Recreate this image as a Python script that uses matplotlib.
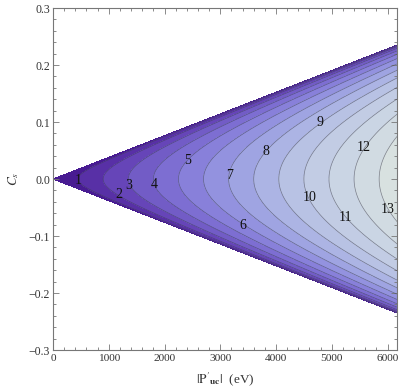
import matplotlib
matplotlib.use('Agg')
import matplotlib.pyplot as plt
import numpy as np
from matplotlib.ticker import MultipleLocator

#------------------------------------------------------------------------------#

plt.rc('font', family='Liberation Serif')
plt.rc('mathtext', fontset='stix')
plt.rc('font', size=8.5)

# values
x_max = 6170.0            # right end of the plot range (eV)
wedge_edge = 0.235        # |C_s| of the allowed region at x_max
level_step = 450.0        # eV between neighbouring contours on C_s = 0
levels = [1, 2, 3, 4, 5, 6, 7, 8, 9, 10, 11, 12, 13]

# where the contour labels sit (x in eV, C_s)
label_text = ['1', '2', '3', '4', '5', '6', '7', '8', '9', '10', '11', '12', '13']
label_x = [450, 1186, 1365, 1814, 2407, 3413, 3162, 3826, 4796, 4599, 5245, 5569, 6000]
label_y = [-0.002, -0.028, -0.011, -0.009, 0.033, -0.082, 0.007, 0.049, 0.0998,
           -0.033, -0.067, 0.056, -0.053]

# band colours, dark purple at the wedge edge to pale grey in the middle
band_colors = ['#481b92', '#5830a6', '#6645b8', '#725cc6', '#7d6ed2', '#8880da',
               '#9392df', '#9fa4e2', '#acb4e4', '#b8c2e4', '#c2cce4', '#cad5e4',
               '#d1dbe2', '#d8e1e0']

#------------------------------------------------------------------------------#

def field():
    k = wedge_edge / x_max
    x = np.linspace(0.0, x_max, 400)
    t = np.sin(np.linspace(-np.pi / 2, np.pi / 2, 400))
    X, T = np.meshgrid(x, t)
    Y = T * k * X
    Z = X * np.sqrt(np.clip(1.0 - T**2, 0.0, None)) / level_step
    return X, Y, Z

#------------------------------------------------------------------------------#

def main():

    fig = plt.figure(figsize=(3.99, 3.92), dpi=100)
    ax = fig.add_axes([0.1328, 0.1071, 0.8622, 0.8724])

    X, Y, Z = field()
    bounds = [0] + levels + [20]
    ax.contourf(X, Y, Z, levels=bounds, colors=band_colors[:len(bounds) - 1])
    ax.contour(X, Y, Z, levels=levels, colors='#3c3c50', linewidths=0.5, alpha=0.6)

    for txt, lx, ly in zip(label_text, label_x, label_y):
        ax.text(lx, ly, txt, ha='center', va='center', fontsize=10, color='#111111')

    ax.set_xlim(0, x_max)
    ax.set_ylim(-0.3, 0.3)
    ax.set_xticks([0, 1000, 2000, 3000, 4000, 5000, 6000])
    ax.set_yticks([-0.3, -0.2, -0.1, 0.0, 0.1, 0.2, 0.3])
    ax.set_yticklabels(['\u22120.3', '\u22120.2', '\u22120.1', '0.0', '0.1', '0.2', '0.3'])
    ax.xaxis.set_minor_locator(MultipleLocator(200))
    ax.yaxis.set_minor_locator(MultipleLocator(0.02))
    ax.tick_params(which='both', direction='in', top=True, right=True,
                   color='#777777', labelcolor='#333333', width=0.6)
    ax.tick_params(which='major', length=4, pad=2)
    ax.tick_params(which='minor', length=2)
    ax.tick_params(axis='x', which='major', labelsize=8.2, pad=3)
    for s in ax.spines.values():
        s.set_color('#777777')
        s.set_linewidth(0.8)

    ax.set_xlabel(r"$|\mathrm{P}'_{\mathbf{uc}}|$  (eV)", color='#333333',
                  fontsize=9.5, labelpad=5)
    ax.set_ylabel(r'$C_s$', color='#333333', fontsize=9.5, labelpad=6)

    fig.savefig('out.png', dpi=100)

#------------------------------------------------------------------------------#

if __name__ == "__main__":
    main()
